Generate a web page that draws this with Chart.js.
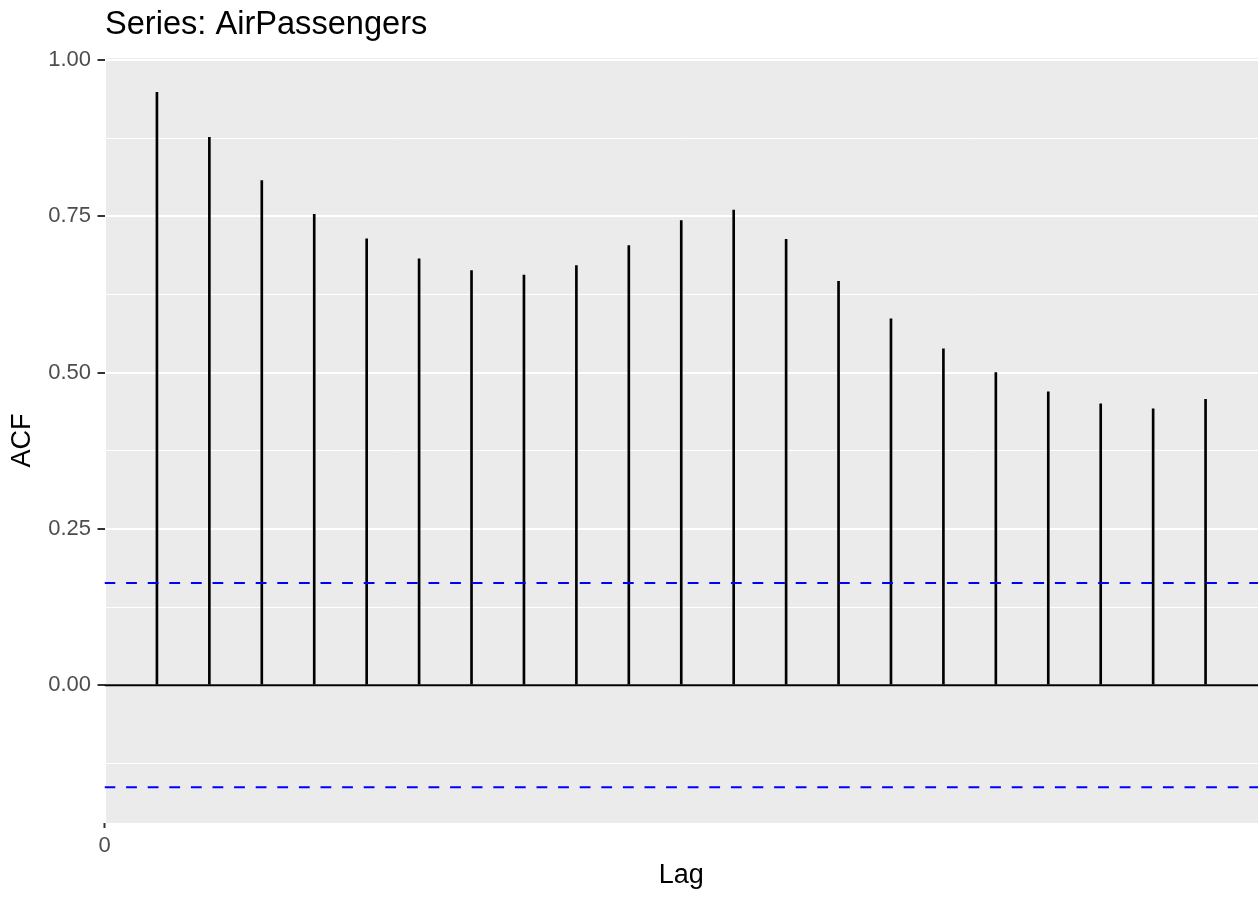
<!DOCTYPE html>
<html>
<head>
<meta charset="utf-8">
<script src="https://cdn.jsdelivr.net/npm/chart.js@4/dist/chart.umd.min.js"></script>
<style>
  html, body { margin: 0; padding: 0; background: #ffffff; }
  #wrap { width: 1258px; height: 897px; }
</style>
</head>
<body>
<div id="wrap"><canvas id="acf" width="1258" height="897"></canvas></div>
<script>
// Autocorrelation of the AirPassengers series, lags 1..21
const lags = [1, 2, 3, 4, 5, 6, 7, 8, 9, 10, 11, 12, 13, 14, 15, 16, 17, 18, 19, 20, 21];
const acfValues = [0.948, 0.876, 0.807, 0.753, 0.714, 0.682, 0.663, 0.656, 0.671, 0.703,
                   0.743, 0.760, 0.713, 0.646, 0.586, 0.538, 0.500, 0.469, 0.450, 0.442, 0.457];
// 95% significance bound
const ciLevel = 0.1633;
// axis ticks
const yMajorTicks = [0, 0.25, 0.5, 0.75, 1.0];
const yMinorTicks = [-0.125, 0.125, 0.375, 0.625, 0.875];
const xTicks = [0];
const xRange = [0, 22];
const yRange = [-0.2203, 1.003];

const FONT = '"Liberation Sans", Arial, Helvetica, sans-serif';
const isMajor = v => yMajorTicks.some(t => Math.abs(t - v) < 1e-9);

const panelBackground = {
  id: 'panelBackground',
  beforeDraw(chart) {
    const { ctx, chartArea: a } = chart;
    ctx.save();
    ctx.fillStyle = '#EBEBEB';
    ctx.fillRect(a.left + 1.5, a.top, a.right - a.left - 1.5, a.bottom - a.top);
    ctx.restore();
  }
};

const plotTitle = {
  id: 'plotTitle',
  afterDraw(chart) {
    const { ctx, chartArea: a } = chart;
    ctx.save();
    ctx.font = '32.6px ' + FONT;
    ctx.fillStyle = '#000000';
    ctx.textAlign = 'left';
    ctx.textBaseline = 'alphabetic';
    ctx.fillText('Series: AirPassengers', a.left + 0.5, 33.5);
    ctx.restore();
  }
};

const hline = (y, color, width, dash) => ({
  type: 'line',
  data: [{ x: xRange[0], y: y }, { x: xRange[1], y: y }],
  borderColor: color,
  borderWidth: width,
  borderDash: dash,
  pointRadius: 0,
  fill: false,
  tension: 0
});

new Chart(document.getElementById('acf'), {
  type: 'bar',
  data: {
    datasets: [
      hline(ciLevel, '#0000FF', 2, [10.8, 10.8]),
      hline(-ciLevel, '#0000FF', 2, [10.8, 10.8]),
      {
        type: 'bar',
        data: lags.map((l, i) => ({ x: l, y: acfValues[i] })),
        backgroundColor: '#000000',
        borderWidth: 0,
        barThickness: 2
      },
      hline(0, '#000000', 2, [])
    ]
  },
  options: {
    responsive: false,
    animation: false,
    layout: { padding: { top: 58, left: 0, right: 0, bottom: 0 } },
    plugins: { legend: { display: false }, tooltip: { enabled: false }, title: { display: false } },
    scales: {
      x: {
        type: 'linear',
        min: xRange[0],
        max: xRange[1],
        offset: false,
        afterBuildTicks(scale) { scale.ticks = xTicks.map(v => ({ value: v })); },
        afterFit(scale) { scale.height = 74; },
        border: { display: false },
        grid: { offset: false, drawOnChartArea: false, drawTicks: true, tickLength: 5, tickColor: '#333333', tickWidth: 2 },
        ticks: {
          autoSkip: false, maxRotation: 0, padding: 5,
          color: '#4D4D4D', font: { family: FONT, size: 22 },
          callback: v => String(v)
        },
        title: {
          display: true, text: 'Lag', color: '#000000',
          font: { family: FONT, size: 27 }, padding: { top: 0, bottom: 5 }
        }
      },
      y: {
        type: 'linear',
        min: yRange[0],
        max: yRange[1],
        afterBuildTicks(scale) {
          scale.ticks = yMajorTicks.concat(yMinorTicks).sort((a, b) => a - b).map(v => ({ value: v }));
        },
        afterFit(scale) { scale.width = 104.5; },
        border: { display: false },
        grid: {
          color: '#FFFFFF',
          lineWidth: c => (c.tick && isMajor(c.tick.value)) ? 2 : 1,
          tickColor: c => (c.tick && isMajor(c.tick.value)) ? '#333333' : 'rgba(0,0,0,0)',
          tickWidth: 2,
          tickLength: 7,
          drawTicks: true
        },
        ticks: {
          autoSkip: false, padding: 6.5,
          color: '#4D4D4D', font: { family: FONT, size: 22 },
          callback: v => isMajor(v) ? v.toFixed(2) : ''
        },
        title: {
          display: true, text: 'ACF', color: '#000000',
          font: { family: FONT, size: 27 }, padding: { top: 6.5, bottom: 0 }
        }
      }
    }
  },
  plugins: [panelBackground, plotTitle]
});
</script>
</body>
</html>
